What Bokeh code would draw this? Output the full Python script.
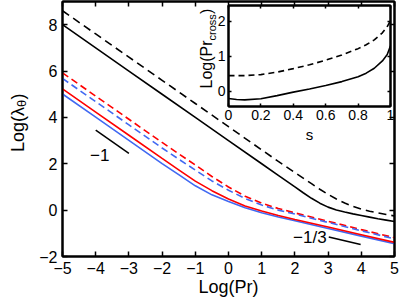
import math
from bokeh.plotting import figure
from bokeh.models import Range1d, LinearAxis, FixedTicker, Label, NumeralTickFormatter
from bokeh.layouts import column
from bokeh.embed import file_html
from bokeh.resources import INLINE

FONT = "Liberation Sans"

# ---------------- data ----------------
log_pr_black = [-5, -4, -3, -2, -1, 0, 1, 1.5, 2.0, 2.25, 2.5, 2.75, 3.0, 3.25, 3.5, 3.75,
                4.0, 4.25, 4.5, 4.75, 5.0]
black_solid = [8.0, 7.0, 6.0, 5.0, 4.0, 3.0, 2.0, 1.5, 1.0, 0.75, 0.51, 0.3, 0.13, 0.01, -0.08,
               -0.16, -0.23, -0.3, -0.37, -0.43, -0.49]
black_dashed = [8.6, 7.6, 6.6, 5.6, 4.6, 3.6, 2.6, 2.1, 1.62, 1.38, 1.14, 0.9, 0.68, 0.48, 0.31,
                0.16, 0.04, -0.05, -0.12, -0.19, -0.25]

log_pr_color = [-5, -4, -3, -2, -1.5, -1, -0.5, 0, 0.5, 1, 1.5, 2, 3, 4, 5]
red_solid = [5.23, 4.23, 3.23, 2.23, 1.74, 1.25, 0.84, 0.48, 0.18, -0.04, -0.23, -0.4, -0.73, -1.06, -1.39]
blue_solid = [5.01, 4.01, 3.01, 2.01, 1.53, 1.05, 0.66, 0.37, 0.1, -0.11, -0.3, -0.46, -0.79, -1.12, -1.45]
red_dashed = [5.92, 4.92, 3.92, 2.92, 2.43, 1.95, 1.45, 1.0, 0.6, 0.3, 0.07, -0.12, -0.48, -0.84, -1.19]
blue_dashed = [5.68, 4.68, 3.68, 2.68, 2.2, 1.73, 1.26, 0.86, 0.5, 0.22, 0.0, -0.17, -0.53, -0.89, -1.24]

slope1_x = [-4.0, -3.0]
slope1_y = [3.45, 2.45]
slope1_label = "−1"
slope1_label_xy = (-3.88, 2.4)

slope3_x = [3.02, 3.98]
slope3_y = [-1.16, -1.48]
slope3_label = "−1/3"
slope3_label_xy = (2.45, -1.2)

x_ticks = [-5, -4, -3, -2, -1, 0, 1, 2, 3, 4, 5]
x_tick_labels = ["−5", "−4", "−3", "−2", "−1", "0", "1", "2", "3", "4", "5"]
y_ticks = [-2, 0, 2, 4, 6, 8]
y_tick_labels = ["−2", "0", "2", "4", "6", "8"]

s_vals = [0, 0.05, 0.1, 0.2, 0.3, 0.4, 0.5, 0.6, 0.7, 0.8, 0.85, 0.9, 0.95, 0.98, 1.0]
cross_solid = [-0.2, -0.23, -0.24, -0.21, -0.12, -0.02, 0.07, 0.17, 0.28, 0.42, 0.52, 0.66, 0.87, 1.05, 1.3]
cross_dashed = [0.45, 0.45, 0.45, 0.48, 0.55, 0.65, 0.76, 0.89, 1.04, 1.22, 1.33, 1.47, 1.67, 1.85, 2.02]
s_ticks = [0, 0.2, 0.4, 0.6, 0.8, 1]
cross_ticks = [0, 1, 2]

RED = "#ff0000"
BLUE = "#4169f2"

# Layout (page pixels). All figures in the column share left/right borders 62/5.
BL, BR = 62, 5
MX0, MX1, MY0, MY1 = -5, 5, -2, 9
M_LEFT, M_RIGHT, M_TOP, M_BOTTOM = 62, 394, 1, 256
M_PX_X = (M_RIGHT - M_LEFT) / (MX1 - MX0)
M_PX_Y = (M_BOTTOM - M_TOP) / (MY1 - MY0)
IX0, IX1, IY0, IY1 = 0, 1, -0.43, 2.45
I_LEFT, I_RIGHT, I_TOP, I_BOTTOM = 228, 390, 5, 106


def mx(px):
    return MX0 + (px - M_LEFT) / M_PX_X


def my(py):
    return MY0 + (M_BOTTOM - py) / M_PX_Y


def style_axis(ax, ticks, size, tick_len=5, standoff=4, labels=None, show=True):
    ax.ticker = FixedTicker(ticks=ticks)
    ax.axis_line_color = "black"
    ax.axis_line_width = 2
    ax.major_tick_line_color = "black"
    ax.major_tick_line_width = 1.5
    ax.major_tick_in = tick_len
    ax.major_tick_out = 0
    ax.minor_tick_line_color = None
    ax.major_label_text_font = FONT
    ax.major_label_text_color = "black"
    ax.axis_label_text_font = FONT
    ax.axis_label_text_font_style = "normal"
    ax.axis_label_text_color = "black"
    if show:
        ax.major_label_text_font_size = size
        ax.major_label_standoff = standoff
        if labels is not None:
            ax.major_label_overrides = {t: l for t, l in zip(ticks, labels)}
    else:
        ax.major_label_text_font_size = "0px"
        ax.major_label_standoff = 0
        ax.major_label_overrides = {t: "" for t in ticks}


def vlabel(fig, x, y, text, size):
    fig.add_layout(Label(x=x, y=y, text=text, angle=math.pi / 2, text_align="left",
                         text_baseline="middle", text_font=FONT, text_font_size=size,
                         text_color="black"))


# ---------------- main figure ----------------
p = figure(width=399, height=300, x_range=Range1d(MX0, MX1), y_range=Range1d(MY0, MY1),
           output_backend="svg", toolbar_location=None,
           min_border_left=BL, min_border_right=BR, min_border_top=M_TOP,
           min_border_bottom=300 - M_BOTTOM)
p.xgrid.visible = False
p.ygrid.visible = False
p.background_fill_color = "white"
p.border_fill_color = "white"
p.outline_line_color = "black"
p.outline_line_width = 2

style_axis(p.xaxis[0], x_ticks, "16px", labels=x_tick_labels, standoff=5)
style_axis(p.yaxis[0], y_ticks, "16px", labels=y_tick_labels, standoff=5)
p.xaxis[0].axis_label = "Log(Pr)"
p.xaxis[0].axis_label_text_font_size = "18px"
p.xaxis[0].axis_label_standoff = 0

top_ax = LinearAxis()
style_axis(top_ax, x_ticks, "0px", show=False)
p.add_layout(top_ax, "above")
right_ax = LinearAxis()
style_axis(right_ax, y_ticks, "0px", show=False)
p.add_layout(right_ax, "right")

lw = 1.6
p.line(log_pr_black, black_dashed, line_color="black", line_width=lw, line_dash="8 5")
p.line(log_pr_black, black_solid, line_color="black", line_width=lw)
p.line(log_pr_color, red_dashed, line_color=RED, line_width=lw, line_dash="7 4")
p.line(log_pr_color, blue_dashed, line_color=BLUE, line_width=lw, line_dash="7 4")
p.line(log_pr_color, blue_solid, line_color=BLUE, line_width=lw)
p.line(log_pr_color, red_solid, line_color=RED, line_width=lw)

p.line(slope1_x, slope1_y, line_color="black", line_width=1.5)
p.line(slope3_x, slope3_y, line_color="black", line_width=1.5)
p.add_layout(Label(x=slope1_label_xy[0], y=slope1_label_xy[1], text=slope1_label,
                   text_font=FONT, text_font_size="17px", text_align="center",
                   text_baseline="middle", text_color="black"))
p.add_layout(Label(x=slope3_label_xy[0], y=slope3_label_xy[1], text=slope3_label,
                   text_font=FONT, text_font_size="17px", text_align="center",
                   text_baseline="middle", text_color="black"))

# inset y label Log(Pr_cross): lies inside the main frame, left of the inset box
vlabel(p, mx(206), my(88), "Log(Pr", "16px")
p.add_layout(Label(x=mx(211), y=my(40), text="cross", angle=math.pi / 2,
                   text_align="left", text_baseline="middle", text_font=FONT,
                   text_font_size="11px", text_color="black"))
vlabel(p, mx(206), my(13.5), ")", "16px")

# ---------------- inset ----------------
I_BT, I_BB = 5, 40
inset = figure(width=BL + (I_RIGHT - I_LEFT) + BR, height=I_BT + (I_BOTTOM - I_TOP) + I_BB,
               x_range=Range1d(IX0, IX1), y_range=Range1d(IY0, IY1),
               output_backend="svg", toolbar_location=None,
               min_border_left=BL, min_border_right=BR, min_border_top=I_BT, min_border_bottom=I_BB)
inset.xgrid.visible = False
inset.ygrid.visible = False
inset.background_fill_color = "white"
inset.border_fill_color = None
inset.outline_line_color = "black"
inset.outline_line_width = 2

style_axis(inset.xaxis[0], s_ticks, "14px", tick_len=3, standoff=3)
inset.xaxis[0].formatter = NumeralTickFormatter(format="0.[0]")
inset.xaxis[0].axis_label = "s"
inset.xaxis[0].axis_label_text_font_size = "15px"
inset.xaxis[0].axis_label_standoff = 3
style_axis(inset.yaxis[0], cross_ticks, "14px", tick_len=3, standoff=3)
inset.yaxis[0].formatter = NumeralTickFormatter(format="0")

itop = LinearAxis()
style_axis(itop, s_ticks, "0px", tick_len=3, show=False)
inset.add_layout(itop, "above")
iright = LinearAxis()
style_axis(iright, cross_ticks, "0px", tick_len=3, show=False)
inset.add_layout(iright, "right")

inset.line(s_vals, cross_dashed, line_color="black", line_width=1.6, line_dash="6 4")
inset.line(s_vals, cross_solid, line_color="black", line_width=1.6)

inset.styles = {"position": "absolute", "left": f"{I_LEFT - BL}px",
                "top": f"{I_TOP - I_BT}px", "z-index": "2"}

# ---------------- helper for the main y label Log(λθ) ----------------
H_LEFT, H_RIGHT, H_TOP, H_BOTTOM = 4, 32, 80, 170
helper = figure(width=BL + (H_RIGHT - H_LEFT) + BR, height=H_BOTTOM - H_TOP,
                x_range=Range1d(H_LEFT, H_RIGHT), y_range=Range1d(H_BOTTOM, H_TOP),
                output_backend="svg", toolbar_location=None,
                x_axis_type=None, y_axis_type=None,
                min_border_left=BL, min_border_right=BR, min_border_top=0, min_border_bottom=0)
helper.xgrid.visible = False
helper.ygrid.visible = False
helper.outline_line_color = None
helper.background_fill_color = None
helper.border_fill_color = None
vlabel(helper, 17, 151.5, "Log(λ", "18px")
helper.add_layout(Label(x=21, y=106.5, text="θ", angle=math.pi / 2, text_align="left",
                        text_baseline="middle", text_font=FONT, text_font_size="13px",
                        text_color="black"))
vlabel(helper, 17, 99, ")", "18px")
helper.styles = {"position": "absolute", "left": f"{H_LEFT - BL}px",
                 "top": f"{H_TOP}px", "z-index": "3"}

layout = column(p, inset, helper, width=399, height=300)
layout.styles = {"position": "relative"}

open("out.html", "w").write(file_html(layout, INLINE))
